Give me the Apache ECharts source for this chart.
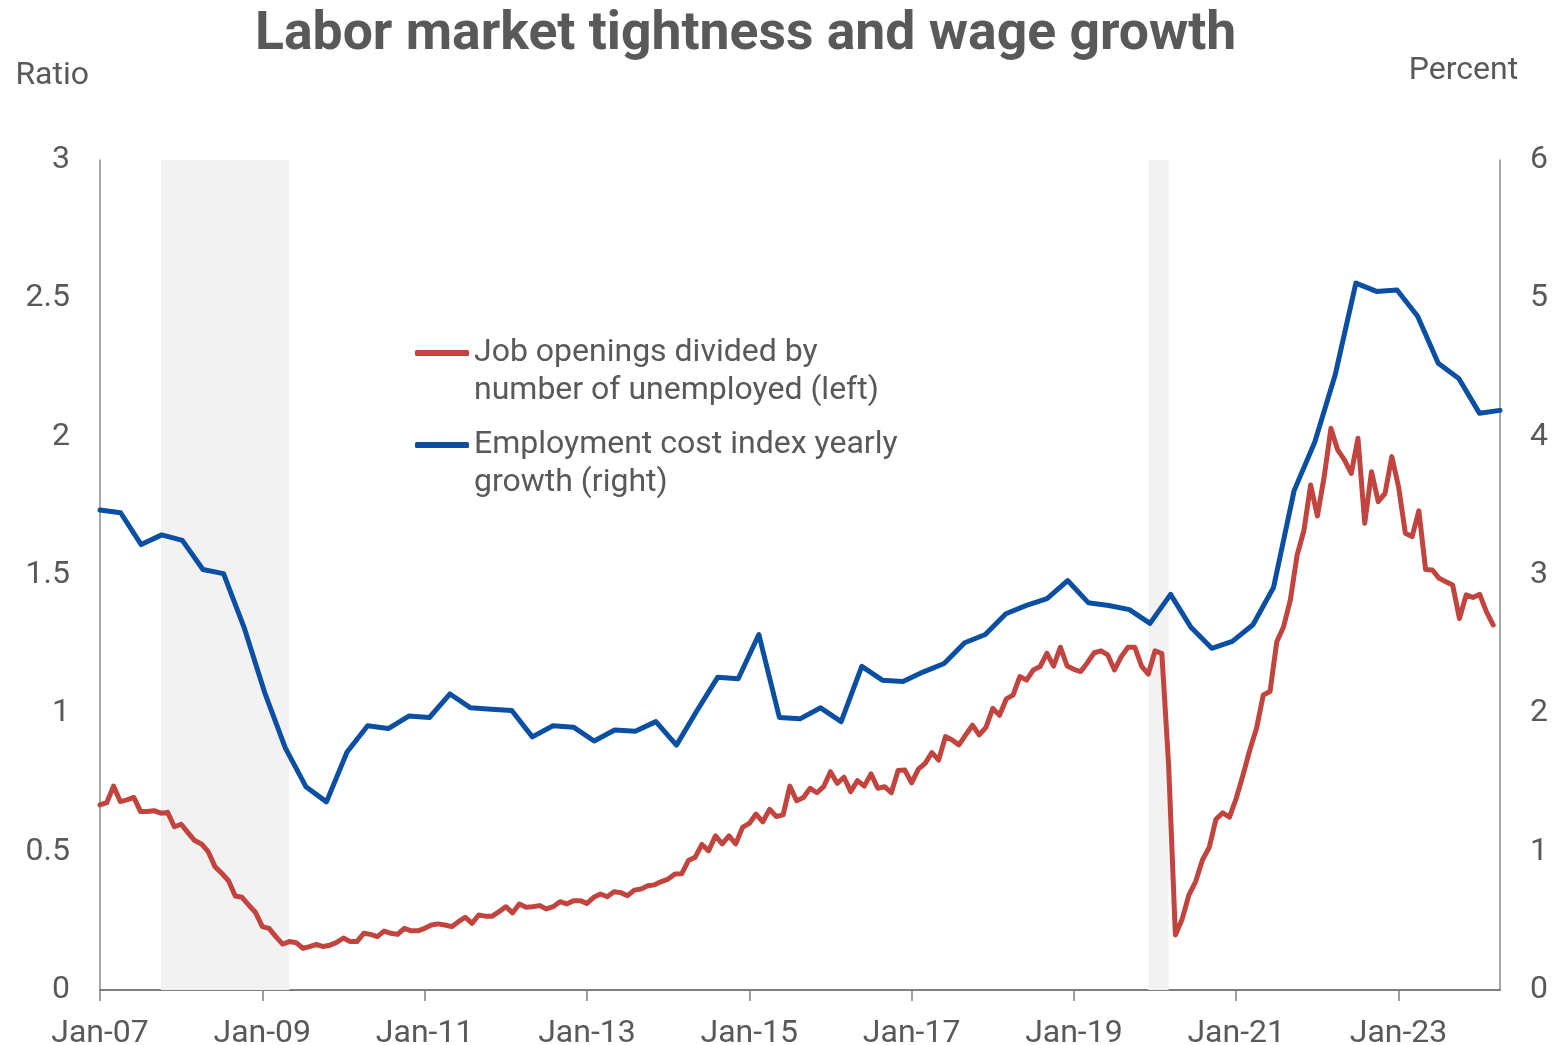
<!DOCTYPE html>
<html>
<head>
<meta charset="utf-8">
<script src="https://cdn.jsdelivr.net/npm/echarts@6/dist/echarts.min.js"></script>
<style>
html,body{margin:0;padding:0;background:#fff;}
#chart{width:1557px;height:1045px;}
</style>
</head>
<body>
<div id="chart"></div>
<script>
// ---- Data ----
const titleText = 'Labor market tightness and wage growth';
const seriesNames = ['Job openings divided by\nnumber of unemployed (left)', 'Employment cost index yearly\ngrowth (right)'];

// Monthly categories Jan-07 .. Apr-24
const monthNames = ['Jan','Feb','Mar','Apr','May','Jun','Jul','Aug','Sep','Oct','Nov','Dec'];
const monthCategories = [];
for (let y = 2007; y <= 2024; y++) {
  for (let m = 0; m < 12; m++) {
    if (y === 2024 && m > 3) break;
    monthCategories.push(monthNames[m] + '-' + String(y).slice(2));
  }
}
// Quarterly categories 2007Q1 .. 2024Q1
const quarterCategories = [];
for (let y = 2007; y <= 2024; y++) {
  for (let q = 1; q <= 4; q++) {
    if (y === 2024 && q > 1) break;
    quarterCategories.push(y + 'Q' + q);
  }
}

// Job openings / unemployed (ratio), monthly Jan-07 .. Mar-24
const vuRatio = [
  0.669,0.677,0.737,0.681,0.687,0.696,0.645,0.645,0.648,0.639,0.642,0.590,
  0.599,0.569,0.540,0.528,0.500,0.446,0.422,0.395,0.340,0.335,0.307,0.280,
  0.229,0.223,0.193,0.166,0.175,0.171,0.151,0.157,0.165,0.157,0.162,0.172,
  0.188,0.175,0.175,0.205,0.201,0.193,0.213,0.205,0.201,0.223,0.214,0.214,
  0.223,0.235,0.239,0.235,0.229,0.247,0.263,0.241,0.271,0.267,0.267,0.283,
  0.301,0.279,0.311,0.299,0.301,0.305,0.293,0.301,0.319,0.311,0.323,0.323,
  0.313,0.335,0.347,0.337,0.355,0.352,0.341,0.361,0.365,0.377,0.380,0.392,
  0.401,0.419,0.420,0.468,0.480,0.526,0.503,0.557,0.528,0.557,0.528,0.588,
  0.602,0.636,0.608,0.653,0.627,0.633,0.737,0.684,0.696,0.729,0.713,0.735,
  0.789,0.747,0.769,0.717,0.757,0.737,0.781,0.729,0.735,0.713,0.793,0.795,
  0.749,0.798,0.819,0.858,0.831,0.916,0.904,0.886,0.922,0.957,0.922,0.949,
  1.018,0.993,1.052,1.066,1.133,1.120,1.157,1.169,1.217,1.171,1.239,1.171,
  1.159,1.151,1.183,1.219,1.226,1.211,1.157,1.205,1.239,1.239,1.171,1.142,
  1.226,1.216,0.815,0.199,0.256,0.343,0.392,0.470,0.515,0.617,0.640,0.625,
  0.693,0.777,0.867,0.946,1.066,1.079,1.259,1.313,1.410,1.572,1.660,1.825,
  1.713,1.855,2.030,1.952,1.916,1.867,1.994,1.687,1.873,1.765,1.795,1.928,
  1.819,1.651,1.639,1.732,1.520,1.518,1.488,1.476,1.464,1.343,1.428,1.419,
  1.430,1.367,1.319
];

// ECI yearly growth (percent), quarterly 2007Q1 .. 2024Q1
const eciGrowth = [
  3.47,3.45,3.22,3.29,3.25,3.04,3.01,2.62,2.15,1.75,1.47,1.36,
  1.72,1.91,1.89,1.98,1.97,2.14,2.04,2.03,2.02,1.83,1.91,1.90,
  1.80,1.88,1.87,1.94,1.77,2.02,2.26,2.25,2.57,1.97,1.96,2.04,
  1.94,2.34,2.24,2.23,2.30,2.36,2.51,2.57,2.72,2.78,2.83,2.96,
  2.80,2.78,2.75,2.65,2.86,2.62,2.47,2.52,2.64,2.91,3.61,3.96,
  4.45,5.11,5.05,5.06,4.87,4.53,4.42,4.17,4.19
];

// Recession shading periods (monthly categories)
const recessions = [['Oct-07','May-09'], ['Dec-19','Mar-20']];

const leftTicks = {min: 0, max: 3, interval: 0.5};
const rightTicks = {min: 0, max: 6, interval: 1};

// ---- Chart ----
const TXT = '#595959';
const FONT = 'Roboto';
const FS = 32;
const chart = echarts.init(document.getElementById('chart'), null, {renderer: 'canvas'});

chart.setOption({
  animation: false,
  backgroundColor: '#ffffff',
  textStyle: {fontFamily: FONT},
  title: {
    text: titleText,
    left: 255,
    top: 9,
    padding: 0,
    textStyle: {fontSize: 53.5, fontWeight: 'bold', color: TXT, fontFamily: FONT}
  },
  legend: {
    data: seriesNames,
    orient: 'vertical',
    left: 415,
    top: 296,
    padding: 0,
    itemWidth: 54,
    itemHeight: 6,
    itemGap: -22,
    icon: 'roundRect',
    formatter: name => '\n' + name,
    textStyle: {fontSize: FS, color: TXT, fontFamily: FONT, lineHeight: 38},
    selectedMode: false
  },
  grid: {left: 100, right: 57, top: 160, bottom: 55, containLabel: false, outerBoundsMode: 'none'},
  xAxis: [
    {
      type: 'category',
      data: monthCategories,
      boundaryGap: false,
      axisLine: {show: true, lineStyle: {color: '#7f7f7f', width: 2}},
      axisTick: {show: true, interval: 23, length: 11, lineStyle: {color: '#7f7f7f', width: 1.5}},
      axisLabel: {interval: 23, fontSize: FS, color: TXT, margin: 28, fontFamily: FONT},
      splitLine: {show: false}
    },
    {
      type: 'category',
      data: quarterCategories,
      boundaryGap: false,
      show: false
    }
  ],
  yAxis: [
    {
      type: 'value',
      position: 'left',
      min: leftTicks.min, max: leftTicks.max, interval: leftTicks.interval,
      name: 'Ratio',
      nameLocation: 'end',
      nameGap: 67,
      nameTextStyle: {fontSize: FS, color: TXT, fontFamily: FONT, align: 'right', lineHeight: 34, padding: [0, 11, 0, 0]},
      axisLine: {show: true, lineStyle: {color: '#8c8c8c', width: 1.5}},
      axisTick: {show: false},
      axisLabel: {fontSize: FS, color: TXT, margin: 30, fontFamily: FONT},
      splitLine: {show: false}
    },
    {
      type: 'value',
      position: 'right',
      min: rightTicks.min, max: rightTicks.max, interval: rightTicks.interval,
      name: 'Percent',
      nameLocation: 'end',
      nameGap: 72,
      nameTextStyle: {fontSize: FS, color: TXT, fontFamily: FONT, align: 'center', lineHeight: 34, padding: [0, 73, 0, 0]},
      axisLine: {show: true, lineStyle: {color: '#8c8c8c', width: 1.5}},
      axisTick: {show: false},
      axisLabel: {fontSize: FS, color: TXT, margin: 30, fontFamily: FONT},
      splitLine: {show: false}
    }
  ],
  series: [
    {
      type: 'line',
      xAxisIndex: 0,
      yAxisIndex: 0,
      data: [],
      z: 1,
      silent: true,
      markArea: {
        silent: true,
        itemStyle: {color: '#f2f2f2'},
        data: recessions.map(r => [{xAxis: r[0]}, {xAxis: r[1]}])
      }
    },
    {
      name: seriesNames[0],
      type: 'line',
      xAxisIndex: 0,
      yAxisIndex: 0,
      data: vuRatio,
      showSymbol: false,
      symbol: 'none',
      z: 3,
      lineStyle: {color: '#c1443f', width: 5, join: 'round', cap: 'round'},
      itemStyle: {color: '#c1443f'}
    },
    {
      name: seriesNames[1],
      type: 'line',
      xAxisIndex: 1,
      yAxisIndex: 1,
      data: eciGrowth,
      showSymbol: false,
      symbol: 'none',
      z: 4,
      lineStyle: {color: '#0b4fa2', width: 5, join: 'round', cap: 'round'},
      itemStyle: {color: '#0b4fa2'}
    }
  ]
});
</script>
</body>
</html>
